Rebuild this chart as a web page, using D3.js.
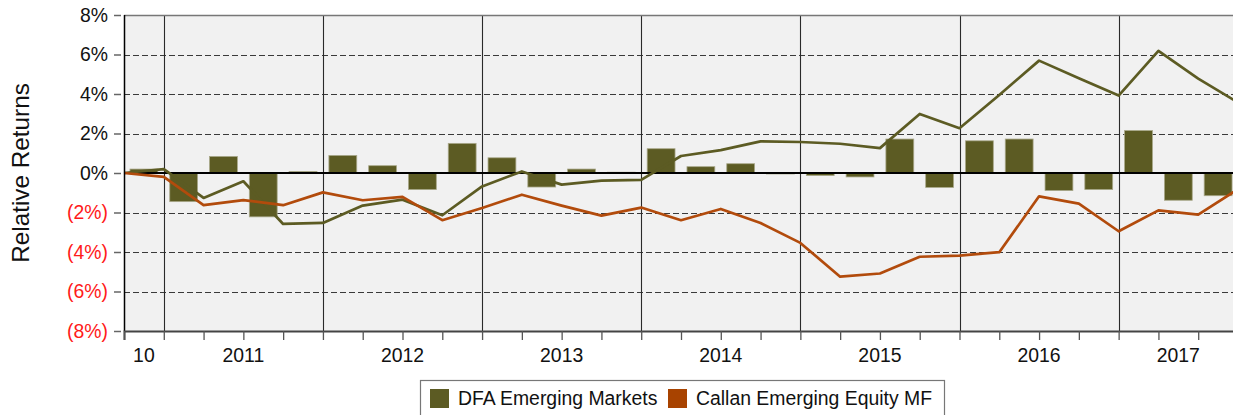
<!DOCTYPE html>
<html>
<head>
<meta charset="utf-8">
<script src="https://cdn.jsdelivr.net/npm/d3@7"></script>
<style>
  html, body { margin: 0; padding: 0; background: #fff; overflow: hidden; }
  svg { display: block; font-family: "Liberation Sans", Arial, sans-serif; }
</style>
</head>
<body>
<svg id="chart" width="1233" height="415"></svg>
<script>
// Quarterly relative returns vs. benchmark, Q4 2010 – Q3 2017 (percent)
const quarters = ["Q4 10",
  "Q1 11","Q2 11","Q3 11","Q4 11",
  "Q1 12","Q2 12","Q3 12","Q4 12",
  "Q1 13","Q2 13","Q3 13","Q4 13",
  "Q1 14","Q2 14","Q3 14","Q4 14",
  "Q1 15","Q2 15","Q3 15","Q4 15",
  "Q1 16","Q2 16","Q3 16","Q4 16",
  "Q1 17","Q2 17","Q3 17"];

// DFA Emerging Markets: quarterly relative return (bars)
const dfaQuarterly = [0.2,
  -1.45, 0.84, -2.22, 0.08,
  0.89, 0.37, -0.84, 1.5,
  0.77, -0.71, 0.2, 0.04,
  1.23, 0.32, 0.47, -0.02,
  -0.13, -0.2, 1.72, -0.73,
  1.63, 1.72, -0.89, -0.84,
  2.15, -1.38, -1.15];

// Cumulative relative return at each quarter end (first point = start)
const dfaCumulative = [0, 0.2,
  -1.26, -0.42, -2.58, -2.53,
  -1.65, -1.35, -2.14, -0.68,
  0.08, -0.59, -0.39, -0.35,
  0.86, 1.16, 1.6, 1.57,
  1.48, 1.26, 2.99, 2.27,
  3.95, 5.69, 4.8, 3.92,
  6.18, 4.78, 3.57];

const callanCumulative = [0, -0.2,
  -1.63, -1.37, -1.63, -0.98,
  -1.38, -1.21, -2.39, -1.77,
  -1.1, -1.65, -2.16, -1.75,
  -2.39, -1.82, -2.53, -3.54,
  -5.25, -5.09, -4.24, -4.18,
  -4.01, -1.18, -1.55, -2.95,
  -1.89, -2.11, -0.82];

const yTicks = [8, 6, 4, 2, 0, -2, -4, -6, -8];

// Year labels: name, first quarter index, number of quarters shown
const yearLabels = [
  {label: "10", start: 0, n: 1},
  {label: "2011", start: 1, n: 4},
  {label: "2012", start: 5, n: 4},
  {label: "2013", start: 9, n: 4},
  {label: "2014", start: 13, n: 4},
  {label: "2015", start: 17, n: 4},
  {label: "2016", start: 21, n: 4},
  {label: "2017", start: 25, n: 3}
];

const seriesNames = ["DFA Emerging Markets", "Callan Emerging Equity MF"];
const colors = {dfa: "#5c5b23", callan: "#a84300", callanLine: "#b24b0c"};

const svg = d3.select("#chart");
const plotL = 124, plotR = 1238, plotT = 15, plotB = 331;

const x = d3.scaleLinear().domain([0, quarters.length]).range([plotL, plotR]);
const y = d3.scaleLinear().domain([-8, 8]).range([plotB, plotT]);

// plot background
svg.append("rect")
  .attr("x", plotL).attr("y", plotT)
  .attr("width", plotR - plotL).attr("height", plotB - plotT)
  .attr("fill", "#f1f1f1");

// horizontal dashed grid
svg.append("g").selectAll("line")
  .data(yTicks.filter(d => d !== 0 && d !== 8 && d !== -8))
  .join("line")
  .attr("x1", plotL).attr("x2", plotR)
  .attr("y1", d => Math.round(y(d)) + 0.5).attr("y2", d => Math.round(y(d)) + 0.5)
  .attr("stroke", "#3a3a3a").attr("stroke-width", 1.2)
  .attr("stroke-dasharray", "6,3");

// year separators
const yearStarts = yearLabels.slice(1).map(d => d.start);
svg.append("g").selectAll("line")
  .data(yearStarts)
  .join("line")
  .attr("x1", d => Math.round(x(d)) + 0.5).attr("x2", d => Math.round(x(d)) + 0.5)
  .attr("y1", plotT).attr("y2", plotB)
  .attr("stroke", "#2a2a2a").attr("stroke-width", 1.1);

// top border
svg.append("line")
  .attr("x1", plotL).attr("x2", plotR)
  .attr("y1", plotT + 0.5).attr("y2", plotT + 0.5)
  .attr("stroke", "#777").attr("stroke-width", 1.5);

// quarterly bars
const barPad = 0.15;
svg.append("g").selectAll("rect")
  .data(dfaQuarterly)
  .join("rect")
  .attr("x", (d, i) => x(i + barPad))
  .attr("width", (d, i) => x(i + 1 - barPad) - x(i + barPad))
  .attr("y", d => y(Math.max(0, d)))
  .attr("height", d => Math.max(1, Math.abs(y(d) - y(0))))
  .attr("fill", colors.dfa)
  .attr("stroke", "#a9a88a").attr("stroke-width", 0.8);

// zero line
svg.append("line")
  .attr("x1", plotL).attr("x2", plotR)
  .attr("y1", y(0)).attr("y2", y(0))
  .attr("stroke", "#000").attr("stroke-width", 2);

// cumulative lines
const line = d3.line().x((d, i) => x(i)).y(d => y(d));
svg.append("path")
  .datum(dfaCumulative)
  .attr("d", line)
  .attr("fill", "none")
  .attr("stroke", colors.dfa).attr("stroke-width", 2.7)
  .attr("stroke-linejoin", "round");
svg.append("path")
  .datum(callanCumulative)
  .attr("d", line)
  .attr("fill", "none")
  .attr("stroke", colors.callanLine).attr("stroke-width", 2.7)
  .attr("stroke-linejoin", "round");

// y axis
const yAxis = d3.axisLeft(y)
  .tickValues(yTicks)
  .tickSize(0)
  .tickPadding(16)
  .tickFormat(d => d < 0 ? `(${-d}%)` : `${d}%`);
const gy = svg.append("g").attr("transform", `translate(${plotL},0)`).call(yAxis);
gy.select(".domain").remove();
gy.selectAll("text")
  .attr("font-size", 19.4)
  .attr("font-family", "Liberation Sans, Arial, sans-serif")
  .attr("fill", d => d < 0 ? "#ff1a1a" : "#111");
gy.selectAll(".tick").append("line")
  .attr("x1", -10).attr("x2", -3)
  .attr("stroke", "#666").attr("stroke-width", 1.5);
svg.append("line")
  .attr("x1", plotL + 0.5).attr("x2", plotL + 0.5)
  .attr("y1", plotT).attr("y2", plotB)
  .attr("stroke", "#000").attr("stroke-width", 1.5);

// x axis: quarter ticks
const xAxis = d3.axisBottom(x)
  .tickValues(d3.range(0, quarters.length + 1))
  .tickSize(9)
  .tickFormat("");
const gx = svg.append("g").attr("transform", `translate(0,${plotB})`).call(xAxis);
gx.select(".domain").attr("stroke", "#444").attr("stroke-width", 2);
gx.selectAll(".tick line").attr("stroke", "#555").attr("stroke-width", 1.3);

// year labels
svg.append("g").selectAll("text")
  .data(yearLabels)
  .join("text")
  .attr("x", d => x(d.start + d.n / 2))
  .attr("y", 362)
  .attr("text-anchor", "middle")
  .attr("font-size", 19.4)
  .attr("fill", "#111")
  .text(d => d.label);

// y axis title
svg.append("text")
  .attr("transform", `translate(29,${y(0)}) rotate(-90)`)
  .attr("text-anchor", "middle")
  .attr("font-size", 24.3)
  .attr("fill", "#111")
  .text("Relative Returns");

// legend
const legend = svg.append("g");
legend.append("rect")
  .attr("x", 420.5).attr("y", 380.5)
  .attr("width", 524).attr("height", 50)
  .attr("fill", "#fff").attr("stroke", "#777").attr("stroke-width", 1.2);
const legendItems = [
  {name: seriesNames[0], color: colors.dfa, x: 430},
  {name: seriesNames[1], color: colors.callan, x: 668}
];
legendItems.forEach(it => {
  legend.append("rect")
    .attr("x", it.x).attr("y", 389).attr("width", 19).attr("height", 19)
    .attr("fill", it.color);
  legend.append("text")
    .attr("x", it.x + 28).attr("y", 405)
    .attr("font-size", 19.4)
    .attr("fill", "#111")
    .text(it.name);
});
</script>
</body>
</html>
